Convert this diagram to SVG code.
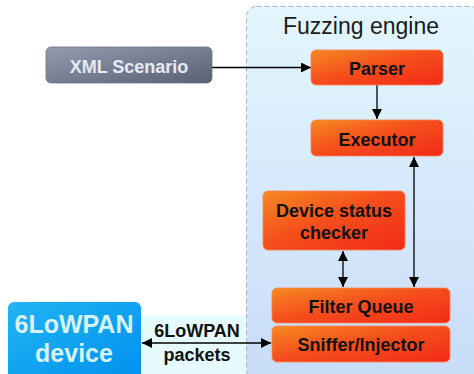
<svg xmlns="http://www.w3.org/2000/svg" width="474" height="374" viewBox="0 0 474 374">
<defs>
<linearGradient id="gEng" x1="0" y1="0" x2="0" y2="1"><stop offset="0" stop-color="#e3f6fe"/><stop offset="1" stop-color="#c9dcf8"/></linearGradient>
<linearGradient id="gOr" x1="0" y1="0" x2="1" y2="1"><stop offset="0" stop-color="#f58a22"/><stop offset="0.45" stop-color="#f5501c"/><stop offset="1" stop-color="#f32a18"/></linearGradient>
<linearGradient id="gGray" x1="0" y1="0" x2="1" y2="1"><stop offset="0" stop-color="#939cae"/><stop offset="1" stop-color="#596274"/></linearGradient>
<linearGradient id="gBlue" x1="0" y1="0" x2="1" y2="1"><stop offset="0" stop-color="#22b4f2"/><stop offset="1" stop-color="#0090f0"/></linearGradient>
<marker id="ah" viewBox="0 0 10 10" refX="10" refY="5" markerWidth="10" markerHeight="10" markerUnits="userSpaceOnUse" orient="auto-start-reverse"><path d="M0,0 L10,5 L0,10 z" fill="#000"/></marker>
<style>
.eng{fill:url(#gEng);stroke:#a9b4bf;stroke-width:1;stroke-dasharray:5,3}
.box{fill:url(#gOr);stroke:#f7845a;stroke-width:0.8}
.bt{font-family:"Liberation Sans",Arial,sans-serif;font-weight:bold;font-size:18px;fill:#111;text-anchor:middle}
.ln{stroke:#000;stroke-width:1.3;fill:none}
</style>
</defs>
<g id="engine">
<rect class="eng" x="246.5" y="6.5" width="234" height="374" rx="10"/>
<text x="361" y="34" font-family="Liberation Sans,Arial,sans-serif" font-size="23" fill="#1a1a1a" text-anchor="middle">Fuzzing engine</text>
</g>
<g id="packets-label">
<rect x="141" y="315" width="105" height="59" fill="#e6fbfd"/>
<text class="bt" x="197" y="337">6LoWPAN</text>
<text class="bt" x="197" y="361">packets</text>
</g>
<g id="connectors">
<line class="ln" x1="212" y1="67.5" x2="311" y2="67.5" marker-end="url(#ah)"/>
<line class="ln" x1="377" y1="85" x2="377" y2="119" marker-end="url(#ah)"/>
<line class="ln" x1="414" y1="157" x2="414" y2="287" marker-start="url(#ah)" marker-end="url(#ah)"/>
<line class="ln" x1="343" y1="251" x2="343" y2="287" marker-start="url(#ah)" marker-end="url(#ah)"/>
<line class="ln" x1="142" y1="343" x2="271" y2="343" marker-start="url(#ah)" marker-end="url(#ah)"/>
</g>
<g id="xml">
<rect x="46" y="47" width="166" height="36" rx="5" fill="url(#gGray)" stroke="#6b7384" stroke-width="0.8"/>
<text class="bt" x="129" y="73" style="fill:#e6eaf2">XML Scenario</text>
</g>
<g id="parser">
<rect class="box" x="311" y="50" width="132" height="35" rx="5"/>
<text class="bt" x="377" y="75">Parser</text>
</g>
<g id="executor">
<rect class="box" x="311" y="120" width="132" height="36" rx="5"/>
<text class="bt" x="377" y="146">Executor</text>
</g>
<g id="checker">
<rect class="box" x="263" y="191" width="142" height="59" rx="5"/>
<text class="bt" x="334" y="217">Device status</text>
<text class="bt" x="334" y="239">checker</text>
</g>
<g id="filter">
<rect class="box" x="272" y="288" width="178" height="35" rx="5"/>
<text class="bt" x="361" y="313">Filter Queue</text>
</g>
<g id="sniffer">
<rect class="box" x="272" y="326" width="178" height="36" rx="5"/>
<text class="bt" x="361" y="351">Sniffer/Injector</text>
</g>
<g id="device">
<rect x="8" y="302" width="133" height="80" rx="6" fill="url(#gBlue)"/>
<text x="74" y="333" font-family="Liberation Sans,Arial,sans-serif" font-weight="bold" font-size="25" fill="#d6f3ff" text-anchor="middle">6LoWPAN</text>
<text x="74" y="362" font-family="Liberation Sans,Arial,sans-serif" font-weight="bold" font-size="25" fill="#d6f3ff" text-anchor="middle">device</text>
</g>
</svg>
